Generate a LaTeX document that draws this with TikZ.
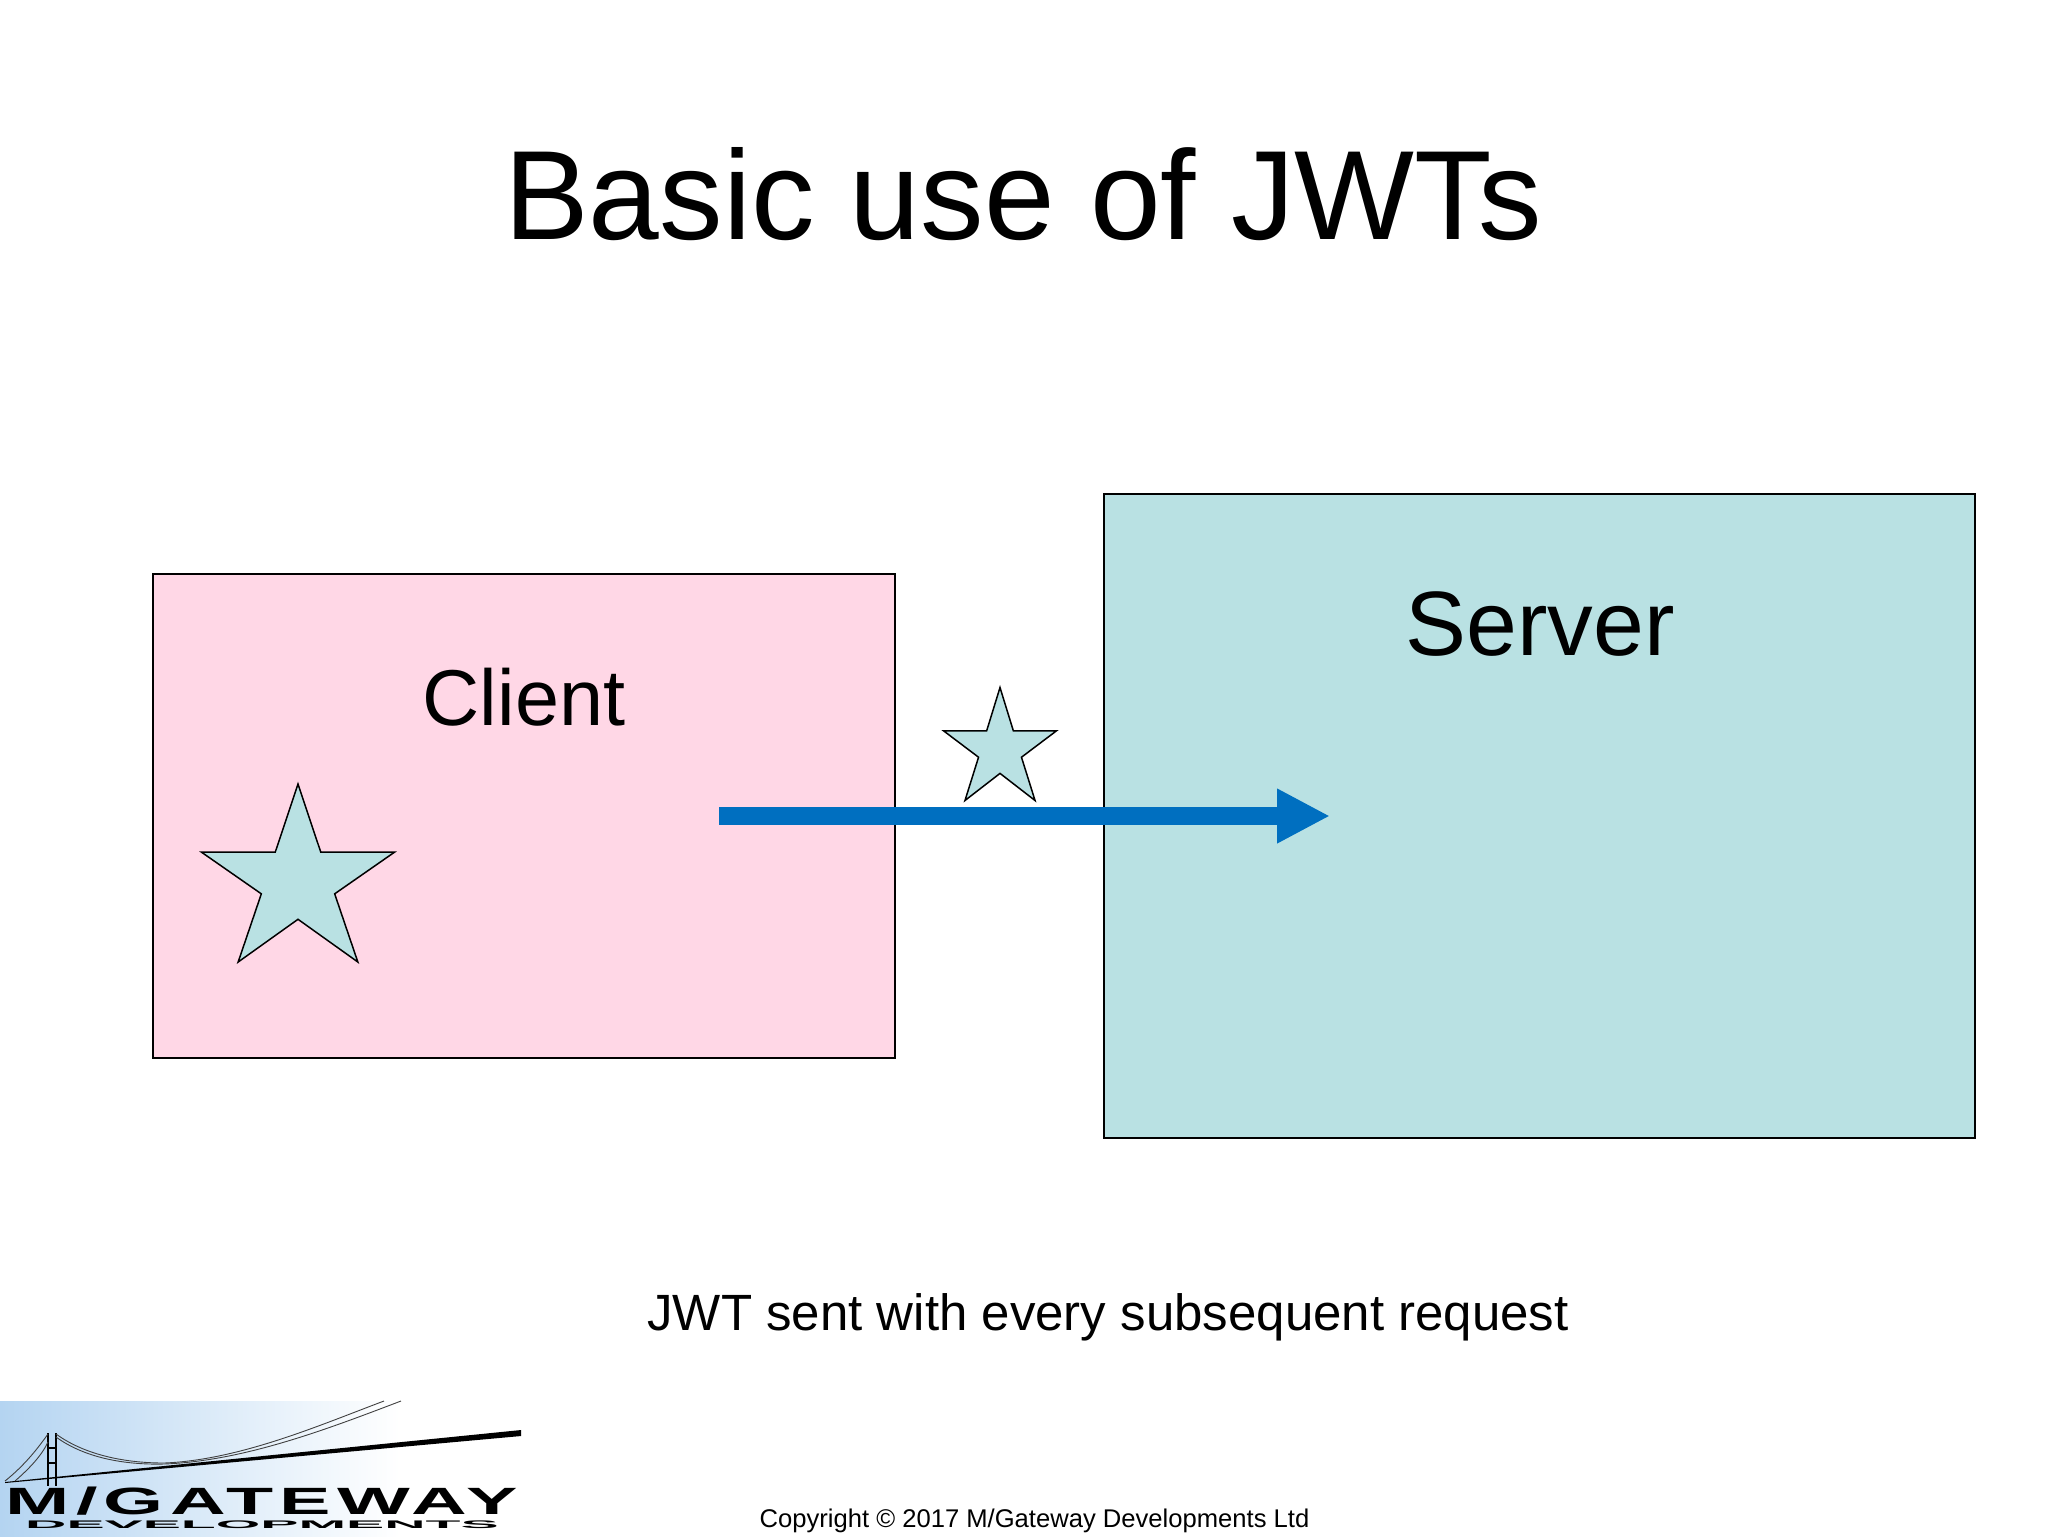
\documentclass[tikz,border=0pt]{standalone}
\usepackage{fontspec}
\setmainfont{Liberation Sans}
\usetikzlibrary{arrows.meta}
\definecolor{clientpink}{HTML}{FFD7E6}
\definecolor{serverteal}{HTML}{B9E1E3}
\definecolor{arrowblue}{HTML}{006FC0}
\definecolor{logoblue}{HTML}{B4D4F1}
\tikzset{jwt star/.pic={
    \draw[line width=.75pt,line join=miter,fill=serverteal] (.5,0) -- (.618,.383) -- (1,.383) -- (.69,.617)
        -- (.81,1) -- (.5,.76) -- (.19,1) -- (.31,.617) -- (0,.383) -- (.382,.383) -- cycle;
}}
\begin{document}
\begin{tikzpicture}[x=.5pt,y=-.5pt,
    box/.style={draw,line width=.75pt,inner sep=0pt,outer sep=0pt},
    txt/.style={anchor=base,inner sep=0pt,outer sep=0pt},
    send arrow/.style={line width=9pt,arrowblue,-{Triangle[length=26.5pt,width=25.5pt]}},
    cable/.style={line width=.45pt,black!75}]
    \useasboundingbox (0,0) rectangle (2048,1536);
    \node (title) [txt,font=\fontsize{63.5}{70}\selectfont] at (1023,239) {Basic use of JWTs};

    \node (client) [box,fill=clientpink,minimum width=371pt,minimum height=242pt] at (524,816) {};
    \node (server) [box,fill=serverteal,minimum width=435.5pt,minimum height=322pt] at (1539.5,816) {};
    \node (clientlabel) [txt,font=\fontsize{39.6}{45}\selectfont] at (524,725) {Client};
    \node (serverlabel) [txt,font=\fontsize{45.7}{50}\selectfont] at (1540,655) {Server};

    \pic (bigstar) [xscale=193,yscale=178] at (201.5,784) {jwt star};
    \pic (smallstar) [xscale=113,yscale=113] at (943.5,687.5) {jwt star};

    \coordinate (sendstart) at (719,816);
    \coordinate (sendend) at (1330,816);
    \draw[send arrow] (sendstart) -- (sendend);

    \node (note) [txt,font=\fontsize{25.5}{30}\selectfont] at (1108,1330) {JWT sent with every subsequent request};
    \node (copyright) [txt,font=\fontsize{12.8}{16}\selectfont] at (1034.5,1527) {Copyright © 2017 M/Gateway Developments Ltd};

    % logo
    \fill[left color=logoblue,right color=white] (0,1401) rectangle (400,1536);
    \fill (5,1482) -- (521,1430) -- (521,1436) -- (5,1483) -- cycle;
    \draw[line width=1.2pt] (48,1433) -- (48,1486) (56,1433) -- (56,1486);
    \draw[line width=.7pt] (48,1448) -- (56,1448) (48,1463) -- (56,1463);
    \draw[cable] (5,1481) .. controls (25,1465) and (38,1448) .. (48,1434);
    \draw[cable] (15,1481) .. controls (30,1468) and (42,1455) .. (48,1442);
    \draw[cable] (56,1434) .. controls (85,1455) and (125,1463) .. (164,1463) .. controls (240,1460) and (320,1425) .. (384,1401);
    \draw[cable] (56,1437) .. controls (85,1458) and (125,1465) .. (164,1464) .. controls (245,1461) and (330,1428) .. (401,1401);
    \node (logotop) [txt,xscale=2.03,font=\fontsize{19}{20}\bfseries\selectfont\addfontfeatures{LetterSpace=8}] at (262,1514) {M/GATEWAY};
    \node (logobottom) [txt,xscale=5.2,font=\fontsize{5.5}{6}\bfseries\selectfont] at (262,1528) {DEVELOPMENTS};
\end{tikzpicture}
\end{document}
